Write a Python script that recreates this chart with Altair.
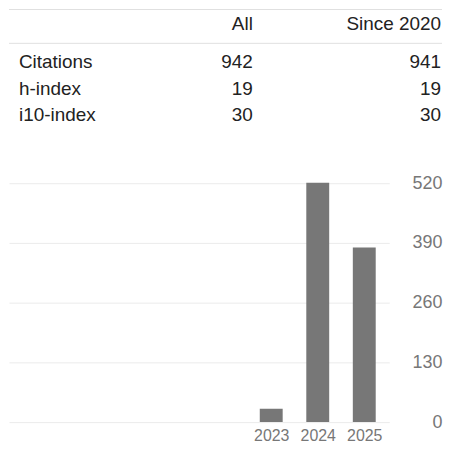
import altair as alt
import pandas as pd

# ---- data ----
metrics = ["Citations", "h-index", "i10-index"]
all_values = [942, 19, 30]
since_values = [941, 19, 30]
columns = ["All", "Since 2020"]

years = [2023, 2024, 2025]
citations = [29, 521, 380]
y_ticks = [0, 130, 260, 390, 520]

FONT = "Liberation Sans"
TEXT_COLOR = "#222222"
GREY = "#777777"

table_df = pd.DataFrame({
    "metric": metrics * 2,
    "column": [columns[0]] * len(metrics) + [columns[1]] * len(metrics),
    "value": all_values + since_values,
})
labels_df = pd.DataFrame({"metric": metrics})
header_df = pd.DataFrame({"column": columns})
one_row = pd.DataFrame({"k": [0]})
bars_df = pd.DataFrame({"year": years, "citations": citations})

TABLE_W = 435

col_x = alt.X("column:N", scale=alt.Scale(domain=columns, range=[245, 434], padding=0), axis=None)
row_y = alt.Y("metric:N", scale=alt.Scale(domain=metrics, range=[59, 113], padding=0), axis=None)

top_rule = alt.Chart(one_row).mark_rule(color="#e0e0e0", strokeWidth=1).encode(
    x=alt.value(0), x2=alt.value(TABLE_W), y=alt.value(0.5)
)
mid_rule = alt.Chart(one_row).mark_rule(color="#e0e0e0", strokeWidth=1).encode(
    x=alt.value(0), x2=alt.value(TABLE_W), y=alt.value(34.5)
)
header = alt.Chart(header_df).mark_text(
    font=FONT, fontSize=19, color=TEXT_COLOR, align="right", baseline="alphabetic"
).encode(x=col_x, y=alt.value(21), text="column:N")
row_labels = alt.Chart(labels_df).mark_text(
    font=FONT, fontSize=19, color=TEXT_COLOR, align="left", baseline="alphabetic"
).encode(x=alt.value(10), y=row_y, text="metric:N")
values = alt.Chart(table_df).mark_text(
    font=FONT, fontSize=19, color=TEXT_COLOR, align="right", baseline="alphabetic"
).encode(x=col_x, y=row_y, text="value:Q")

table = alt.layer(top_rule, mid_rule, header, row_labels, values).properties(
    width=TABLE_W, height=130
)

bars = alt.Chart(bars_df).mark_bar(size=23, color=GREY).encode(
    x=alt.X(
        "year:Q",
        scale=alt.Scale(domain=[2017.47, 2025.43], nice=False, zero=False),
        axis=alt.Axis(
            values=years, format="d", title=None, grid=False, domain=False, ticks=False,
            labelFontSize=16, labelColor=GREY, labelFont=FONT, labelPadding=5,
        ),
    ),
    y=alt.Y(
        "citations:Q",
        scale=alt.Scale(domain=[0, 520], nice=False),
        axis=alt.Axis(
            orient="right", values=y_ticks, title=None, grid=True, gridColor="#ebebeb",
            domain=False, ticks=False, labelFontSize=18, labelColor=GREY, labelFont=FONT,
            labelAlign="right", labelPadding=53, labelBaseline="middle",
        ),
    ),
).properties(width=382, height=240)

chart = alt.vconcat(table, bars, spacing=36).properties(
    padding=0, background="white"
).configure_view(stroke=None)

chart.save("out.html", embed_options={"renderer": "svg", "actions": False})
